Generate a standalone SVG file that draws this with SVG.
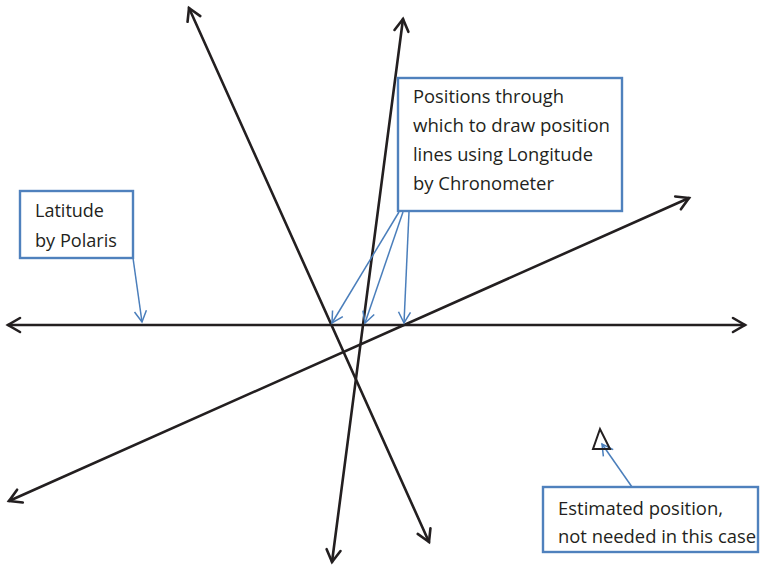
<svg xmlns="http://www.w3.org/2000/svg" width="760" height="568" viewBox="0 0 760 568">
<style>
.pl{stroke:#231f20;stroke-width:2.6;fill:none;stroke-linecap:round}
.bx{fill:#fff;stroke:#4f81bd;stroke-width:2.4}
.ld{stroke:#4a7ebb;stroke-width:1.5;fill:none}
text{font-family:"Open Sans","Liberation Sans",sans-serif;font-size:17.5px;fill:#231f20}
</style>
<defs>
<marker id="ah" markerUnits="userSpaceOnUse" markerWidth="30" markerHeight="30" viewBox="-15 -15 30 30" refX="0" refY="0" orient="auto-start-reverse">
<path d="M-12,-7 L0,0 L-12,7" fill="none" stroke="#231f20" stroke-width="2.6" stroke-linecap="round" stroke-linejoin="miter"/>
</marker>
<marker id="bh" markerUnits="userSpaceOnUse" markerWidth="30" markerHeight="30" viewBox="-15 -15 30 30" refX="0" refY="0" orient="auto">
<path d="M-11,-6 L0,0 L-11,6" fill="none" stroke="#4a7ebb" stroke-width="1.5"/>
</marker>
</defs>
<g id="connectors">
<line class="pl" x1="8" y1="325" x2="745" y2="325" marker-start="url(#ah)" marker-end="url(#ah)"/>
<line class="pl" x1="189" y1="8" x2="429" y2="542" marker-start="url(#ah)" marker-end="url(#ah)"/>
<line class="pl" x1="403" y1="19" x2="332" y2="562" marker-start="url(#ah)" marker-end="url(#ah)"/>
<line class="pl" x1="9" y1="501" x2="689" y2="198" marker-start="url(#ah)" marker-end="url(#ah)"/>
<line class="ld" x1="133" y1="258" x2="142" y2="322" marker-end="url(#bh)"/>
<line class="ld" x1="399" y1="212" x2="332" y2="323" marker-end="url(#bh)"/>
<line class="ld" x1="403" y1="212" x2="365" y2="323" marker-end="url(#bh)"/>
<line class="ld" x1="409" y1="212" x2="404" y2="323" marker-end="url(#bh)"/>
<line class="ld" x1="632" y1="487" x2="602" y2="444" marker-end="url(#bh)"/>
</g>
<g id="latitude-box">
<rect class="bx" x="20" y="191" width="113" height="67"/>
<text x="35" y="217" textLength="69" lengthAdjust="spacingAndGlyphs">Latitude</text>
<text x="35" y="247" textLength="82" lengthAdjust="spacingAndGlyphs">by Polaris</text>
</g>
<g id="positions-box">
<rect class="bx" x="398" y="78" width="224" height="133"/>
<text x="413" y="103" textLength="151" lengthAdjust="spacingAndGlyphs">Positions through</text>
<text x="413" y="132" textLength="197" lengthAdjust="spacingAndGlyphs">which to draw position</text>
<text x="413" y="161" textLength="180" lengthAdjust="spacingAndGlyphs">lines using Longitude</text>
<text x="413" y="190" textLength="141" lengthAdjust="spacingAndGlyphs">by Chronometer</text>
</g>
<g id="estimated-position">
<polygon points="600,429 593,449 610,449" fill="none" stroke="#231f20" stroke-width="2"/>
</g>
<g id="estimated-box">
<rect class="bx" x="543" y="487" width="215" height="65"/>
<text x="558" y="515" textLength="165" lengthAdjust="spacingAndGlyphs">Estimated position,</text>
<text x="558" y="543" textLength="198" lengthAdjust="spacingAndGlyphs">not needed in this case</text>
</g>
</svg>
